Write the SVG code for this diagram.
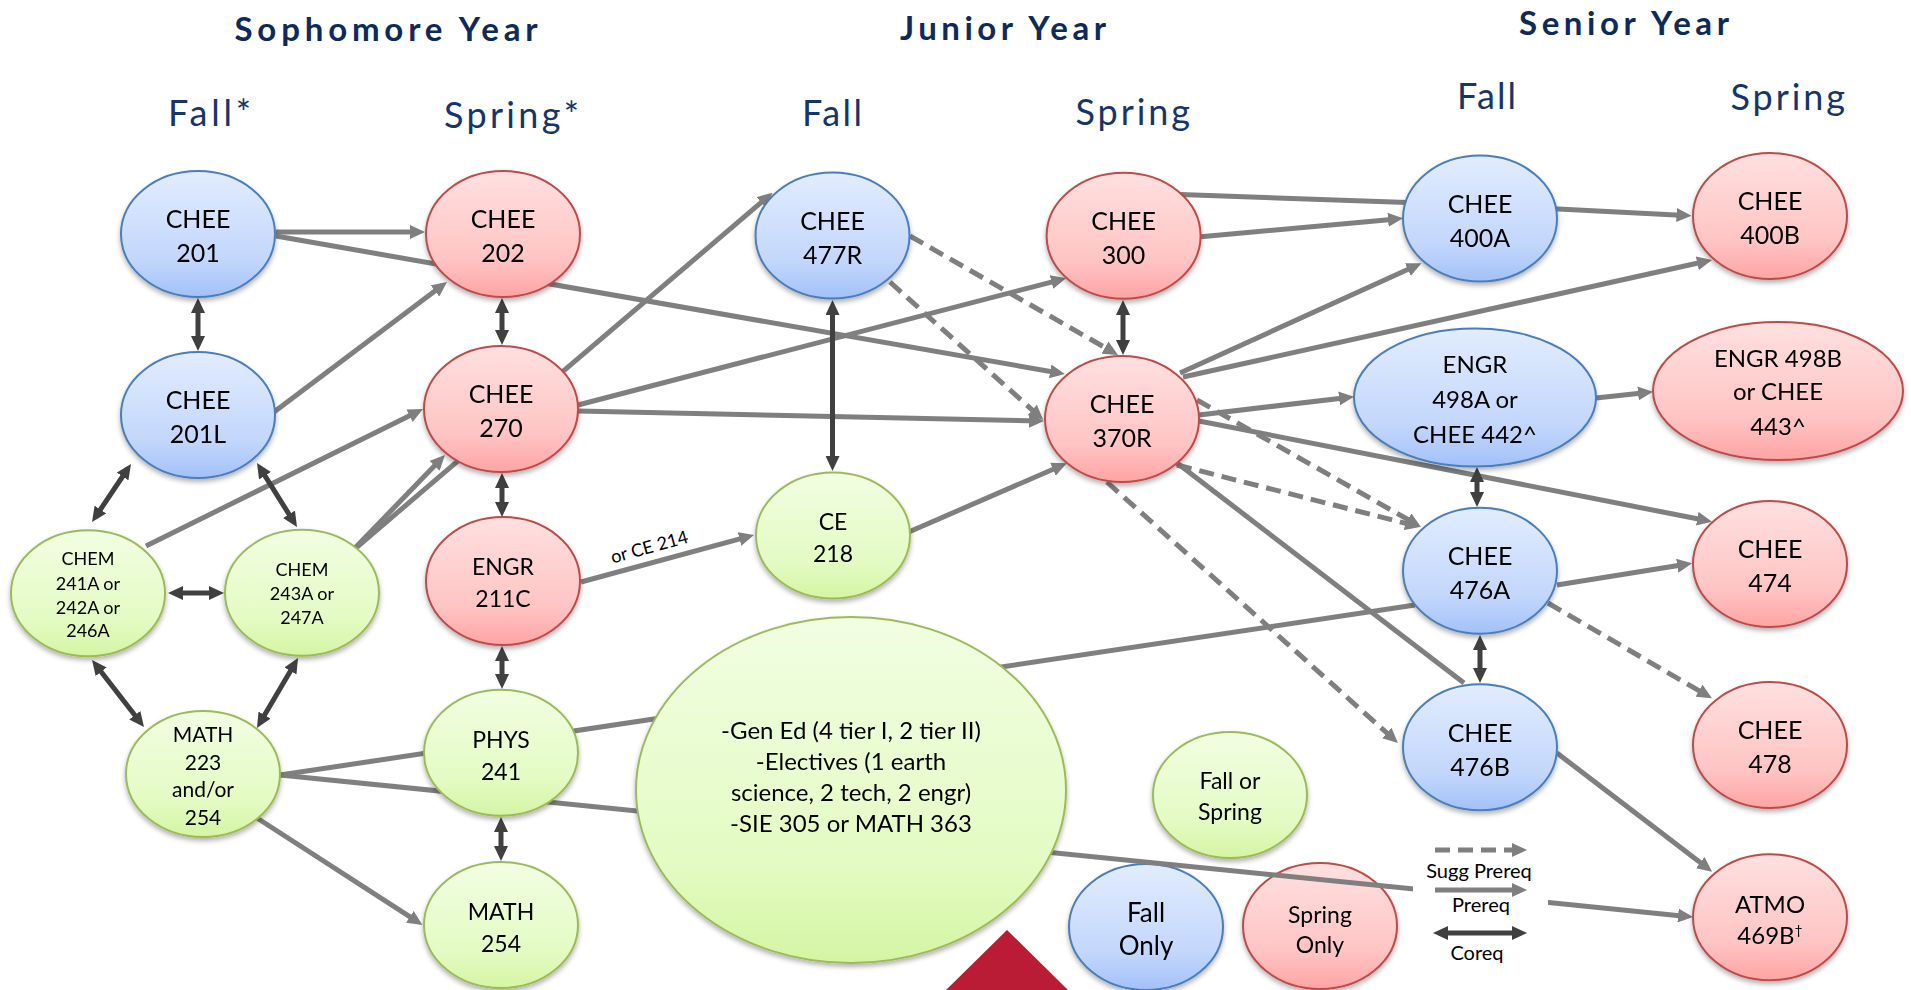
<svg xmlns="http://www.w3.org/2000/svg" width="1911" height="990" viewBox="0 0 1911 990">
<style>
.hd{font-family:Lato,"Liberation Sans",sans-serif;font-weight:bold;font-size:33px;fill:#0e2a5a}
.sm{font-family:Lato,"Liberation Sans",sans-serif;font-size:36px;fill:#17356a}
.t{font-family:Lato,"Liberation Sans",sans-serif;text-anchor:middle;fill:#000}
.f25{font-size:25px}.f24{font-size:24px}.f23{font-size:23px}.f21{font-size:21px}.f18{font-size:18px}.f26{font-size:26px}
.b{fill:url(#gb);stroke:#4a7ebb;stroke-width:2}
.r{fill:url(#gr);stroke:#be4b48;stroke-width:2}
.g{fill:url(#gg);stroke:#9bbb59;stroke-width:2}
.p{stroke:#7f7f7f;stroke-width:5;fill:none}
.pa{stroke:#7f7f7f;stroke-width:5;fill:none;marker-end:url(#ap)}
.d{stroke:#7f7f7f;stroke-width:5;fill:none;stroke-dasharray:15 8;marker-end:url(#ap)}
.c{stroke:#404040;stroke-width:5;fill:none;marker-start:url(#ac);marker-end:url(#ac)}
.lb{font-family:Lato,"Liberation Sans",sans-serif;font-size:20px;text-anchor:middle;fill:#000}
</style>
<defs>
<linearGradient id="gb" x1="0" y1="0" x2="0" y2="1"><stop offset="0" stop-color="#e2ecfe"/><stop offset="0.7" stop-color="#c3d7fc"/><stop offset="1" stop-color="#a2c1f9"/></linearGradient>
<linearGradient id="gr" x1="0" y1="0" x2="0" y2="1"><stop offset="0" stop-color="#ffe0e0"/><stop offset="0.7" stop-color="#ffc4c4"/><stop offset="1" stop-color="#ffa3a3"/></linearGradient>
<linearGradient id="gg" x1="0" y1="0" x2="0" y2="1"><stop offset="0" stop-color="#f1fee2"/><stop offset="0.7" stop-color="#e4fbc4"/><stop offset="1" stop-color="#d5f5a3"/></linearGradient>
<filter id="sh" x="-20%" y="-20%" width="140%" height="140%"><feDropShadow dx="0" dy="3" stdDeviation="2.5" flood-color="#000" flood-opacity="0.3"/></filter>
<marker id="ap" viewBox="0 0 15 14" refX="9" refY="7" markerWidth="15" markerHeight="14" markerUnits="userSpaceOnUse" orient="auto"><path d="M0,0L15,7L0,14z" fill="#7f7f7f"/></marker>
<marker id="ac" viewBox="0 0 15 14" refX="9" refY="7" markerWidth="15" markerHeight="14" markerUnits="userSpaceOnUse" orient="auto-start-reverse"><path d="M0,0L15,7L0,14z" fill="#404040"/></marker>
</defs>
<rect width="1911" height="990" fill="#fff"/>

<g id="headings">
<text class="hd" x="234.5" y="40.7" textLength="303" lengthAdjust="spacing">Sophomore Year</text>
<text class="hd" x="900" y="39.5" textLength="206" lengthAdjust="spacing">Junior Year</text>
<text class="hd" x="1519" y="35" textLength="210" lengthAdjust="spacing">Senior Year</text>
<text class="sm" x="168" y="126" textLength="83" lengthAdjust="spacing">Fall*</text>
<text class="sm" x="444" y="127.5" textLength="135" lengthAdjust="spacing">Spring*</text>
<text class="sm" x="802" y="126" textLength="60" lengthAdjust="spacing">Fall</text>
<text class="sm" x="1075.5" y="125" textLength="114.5" lengthAdjust="spacing">Spring</text>
<text class="sm" x="1457" y="109" textLength="59" lengthAdjust="spacing">Fall</text>
<text class="sm" x="1730.5" y="110" textLength="114.5" lengthAdjust="spacing">Spring</text>
</g>

<g id="key-nodes" filter="url(#sh)">
<g id="n-fallspring"><ellipse class="g" cx="1230" cy="795" rx="77" ry="63"/><text class="t f23"><tspan x="1230" y="789">Fall or</tspan><tspan x="1230" y="820">Spring</tspan></text></g>
<g id="n-fallonly"><ellipse class="b" cx="1146" cy="927" rx="77" ry="63"/><text class="t f26"><tspan x="1146" y="922">Fall</tspan><tspan x="1146" y="955">Only</tspan></text></g>
<g id="n-springonly"><ellipse class="r" cx="1320" cy="926" rx="77" ry="63"/><text class="t f23"><tspan x="1320" y="923">Spring</tspan><tspan x="1320" y="953">Only</tspan></text></g>
</g>

<g id="connectors">
<line class="pa" x1="276" y1="232" x2="419" y2="232"/>
<line class="pa" x1="276" y1="236" x2="1059" y2="373"/>
<line class="pa" x1="274" y1="412" x2="442.2" y2="285.6"/>
<line class="pa" x1="357" y1="547" x2="768" y2="196.6"/>
<line class="pa" x1="355" y1="548" x2="440.8" y2="459.3"/>
<line class="pa" x1="146" y1="546" x2="417.6" y2="411.7"/>
<line class="pa" x1="578" y1="405" x2="1060.2" y2="279.8"/>
<line class="pa" x1="578" y1="411" x2="1038" y2="420.9"/>
<line class="pa" x1="581" y1="582" x2="748.2" y2="536.6"/>
<line class="pa" x1="895" y1="538" x2="1061.2" y2="465.7"/>
<line class="pa" x1="1201" y1="236.7" x2="1397" y2="218.9"/>
<polyline class="pa" points="1075,190.8 1480,205 1685.5,215.4"/>
<line class="pa" x1="1180" y1="373" x2="1416" y2="265.8"/>
<line class="pa" x1="1183" y1="377" x2="1706.1" y2="261.3"/>
<line class="pa" x1="1199" y1="415" x2="1348" y2="397.4"/>
<line class="pa" x1="1596" y1="398" x2="1647" y2="392.4"/>
<line class="pa" x1="1199" y1="421" x2="1706.1" y2="520.5"/>
<line class="pa" x1="1557" y1="585" x2="1686.1" y2="564.3"/>
<line class="pa" x1="1557" y1="753" x2="1707.4" y2="868.1"/>
<line class="pa" x1="257" y1="818" x2="417.4" y2="921.7"/>
<line class="pa" x1="280" y1="775" x2="1687" y2="916.4"/>
<line class="p" x1="280" y1="775" x2="1415" y2="605"/>
<line class="p" x1="1177" y1="463" x2="1464" y2="683"/>
<line class="d" x1="910" y1="236" x2="1112.8" y2="352"/>
<line class="d" x1="890" y1="282" x2="1038.9" y2="416"/>
<line class="d" x1="1197" y1="400" x2="1415.8" y2="524"/>
<line class="d" x1="1177" y1="465" x2="1414.2" y2="525.5"/>
<line class="d" x1="1107" y1="482" x2="1393.5" y2="739"/>
<line class="d" x1="1548" y1="603" x2="1706.8" y2="695.3"/>
<line class="c" x1="198" y1="304" x2="198" y2="345"/>
<line class="c" x1="502" y1="304" x2="502" y2="339"/>
<line class="c" x1="502" y1="479" x2="502" y2="511"/>
<line class="c" x1="502" y1="652" x2="502" y2="683"/>
<line class="c" x1="501" y1="823" x2="501" y2="855"/>
<line class="c" x1="127.6" y1="469" x2="95.4" y2="517"/>
<line class="c" x1="260.2" y1="468.1" x2="293.8" y2="521.9"/>
<line class="c" x1="174" y1="593" x2="218" y2="593"/>
<line class="c" x1="95.7" y1="664.7" x2="140.3" y2="722.3"/>
<line class="c" x1="295" y1="663.2" x2="260" y2="722.8"/>
<line class="c" x1="832.5" y1="306" x2="832.5" y2="465"/>
<line class="c" x1="1123" y1="306" x2="1123" y2="349"/>
<line class="c" x1="1477" y1="473" x2="1477" y2="501"/>
<line class="c" x1="1480" y1="641" x2="1480" y2="677"/>
<text font-family="Lato,'Liberation Sans',sans-serif" font-size="18" text-anchor="middle" transform="translate(651,553) rotate(-15.5)">or CE 214</text>
</g>

<g id="nodes" filter="url(#sh)">
<g id="n-chee201"><ellipse class="b" cx="198" cy="234" rx="77" ry="63"/><text class="t f25"><tspan x="198" y="228">CHEE</tspan><tspan x="198" y="262">201</tspan></text></g>
<g id="n-chee201l"><ellipse class="b" cx="198" cy="415" rx="77" ry="63"/><text class="t f25"><tspan x="198" y="409">CHEE</tspan><tspan x="198" y="443">201L</tspan></text></g>
<g id="n-chee477r"><ellipse class="b" cx="832.5" cy="235.5" rx="77" ry="63"/><text class="t f25"><tspan x="832.5" y="229.5">CHEE</tspan><tspan x="832.5" y="263.5">477R</tspan></text></g>
<g id="n-chee400a"><ellipse class="b" cx="1480" cy="218.5" rx="77" ry="63"/><text class="t f25"><tspan x="1480" y="212.5">CHEE</tspan><tspan x="1480" y="246.5">400A</tspan></text></g>
<g id="n-engr498a"><ellipse class="b" cx="1475" cy="397.5" rx="121" ry="69"/><text class="t f24"><tspan x="1475" y="372.5">ENGR</tspan><tspan x="1475" y="408">498A or</tspan><tspan x="1475" y="443">CHEE 442^</tspan></text></g>
<g id="n-chee476a"><ellipse class="b" cx="1480" cy="570.7" rx="77" ry="63"/><text class="t f25"><tspan x="1480" y="565">CHEE</tspan><tspan x="1480" y="599">476A</tspan></text></g>
<g id="n-chee476b"><ellipse class="b" cx="1480" cy="747.3" rx="77" ry="63"/><text class="t f25"><tspan x="1480" y="741.5">CHEE</tspan><tspan x="1480" y="775.5">476B</tspan></text></g>
<g id="n-chee202"><ellipse class="r" cx="503" cy="234" rx="77" ry="63"/><text class="t f25"><tspan x="503" y="228">CHEE</tspan><tspan x="503" y="262">202</tspan></text></g>
<g id="n-chee270"><ellipse class="r" cx="501" cy="409" rx="77" ry="63"/><text class="t f25"><tspan x="501" y="403">CHEE</tspan><tspan x="501" y="437">270</tspan></text></g>
<g id="n-engr211c"><ellipse class="r" cx="503" cy="581" rx="77" ry="64"/><text class="t f23"><tspan x="503" y="575">ENGR</tspan><tspan x="503" y="607">211C</tspan></text></g>
<g id="n-chee300"><ellipse class="r" cx="1123.6" cy="235.7" rx="77" ry="63"/><text class="t f25"><tspan x="1123.6" y="229.5">CHEE</tspan><tspan x="1123.6" y="263.5">300</tspan></text></g>
<g id="n-chee370r"><ellipse class="r" cx="1122" cy="419" rx="77" ry="63"/><text class="t f25"><tspan x="1122" y="412.5">CHEE</tspan><tspan x="1122" y="446.5">370R</tspan></text></g>
<g id="n-chee400b"><ellipse class="r" cx="1770" cy="216" rx="77" ry="63"/><text class="t f25"><tspan x="1770" y="210">CHEE</tspan><tspan x="1770" y="244">400B</tspan></text></g>
<g id="n-engr498b"><ellipse class="r" cx="1778" cy="391" rx="125" ry="69"/><text class="t f24"><tspan x="1778" y="366.7">ENGR 498B</tspan><tspan x="1778" y="400">or CHEE</tspan><tspan x="1778" y="435">443^</tspan></text></g>
<g id="n-chee474"><ellipse class="r" cx="1770" cy="564" rx="77" ry="63"/><text class="t f25"><tspan x="1770" y="558">CHEE</tspan><tspan x="1770" y="592">474</tspan></text></g>
<g id="n-chee478"><ellipse class="r" cx="1770" cy="745" rx="77" ry="63"/><text class="t f25"><tspan x="1770" y="739">CHEE</tspan><tspan x="1770" y="773">478</tspan></text></g>
<g id="n-atmo469b"><ellipse class="r" cx="1770" cy="917.3" rx="77" ry="63"/><text class="t f24"><tspan x="1770" y="912.5">ATMO</tspan><tspan x="1770" y="943.5">469B<tspan font-size="14" dy="-9">†</tspan></tspan></text></g>
<g id="n-chem241a"><ellipse class="g" cx="88" cy="593.3" rx="77" ry="63"/><text class="t f18"><tspan x="88" y="565">CHEM</tspan><tspan x="88" y="590">241A or</tspan><tspan x="88" y="613.5">242A or</tspan><tspan x="88" y="637">246A</tspan></text></g>
<g id="n-chem243a"><ellipse class="g" cx="302" cy="592.7" rx="77" ry="63"/><text class="t f18"><tspan x="302" y="576">CHEM</tspan><tspan x="302" y="600">243A or</tspan><tspan x="302" y="623.5">247A</tspan></text></g>
<g id="n-math223"><ellipse class="g" cx="203" cy="774" rx="77" ry="63"/><text class="t f21"><tspan x="203" y="742">MATH</tspan><tspan x="203" y="769.5">223</tspan><tspan x="203" y="797">and/or</tspan><tspan x="203" y="824.5">254</tspan></text></g>
<g id="n-phys241"><ellipse class="g" cx="501" cy="752.7" rx="77" ry="63"/><text class="t f23"><tspan x="501" y="748">PHYS</tspan><tspan x="501" y="780">241</tspan></text></g>
<g id="n-math254"><ellipse class="g" cx="501" cy="925" rx="77" ry="63"/><text class="t f23"><tspan x="501" y="920">MATH</tspan><tspan x="501" y="952">254</tspan></text></g>
<g id="n-ce218"><ellipse class="g" cx="833" cy="535.5" rx="77" ry="63"/><text class="t f23"><tspan x="833" y="529.5">CE</tspan><tspan x="833" y="561.5">218</tspan></text></g>
<g id="n-gened"><ellipse class="g" cx="851" cy="790" rx="215" ry="173"/><text class="t f24"><tspan x="851" y="739">-Gen Ed (4 tier I, 2 tier II)</tspan><tspan x="851" y="770">-Electives (1 earth</tspan><tspan x="851" y="800.5">science, 2 tech, 2 engr)</tspan><tspan x="851" y="831.5">-SIE 305 or MATH 363</tspan></text></g>
</g>

<g id="legend">
<rect x="1413" y="838" width="135" height="130" fill="#fff"/>
<line class="d" x1="1435" y1="850" x2="1521" y2="850"/>
<text class="lb" x="1479" y="878">Sugg Prereq</text>
<line class="pa" x1="1435" y1="890" x2="1521" y2="890"/>
<text class="lb" x="1481" y="911.5">Prereq</text>
<line class="c" x1="1439" y1="933" x2="1521" y2="933"/>
<text class="lb" x="1477" y="960">Coreq</text>
</g>

<polygon id="corner-mark" points="1007,930 946,990 1068,990" fill="#ba1c36"/>
</svg>
